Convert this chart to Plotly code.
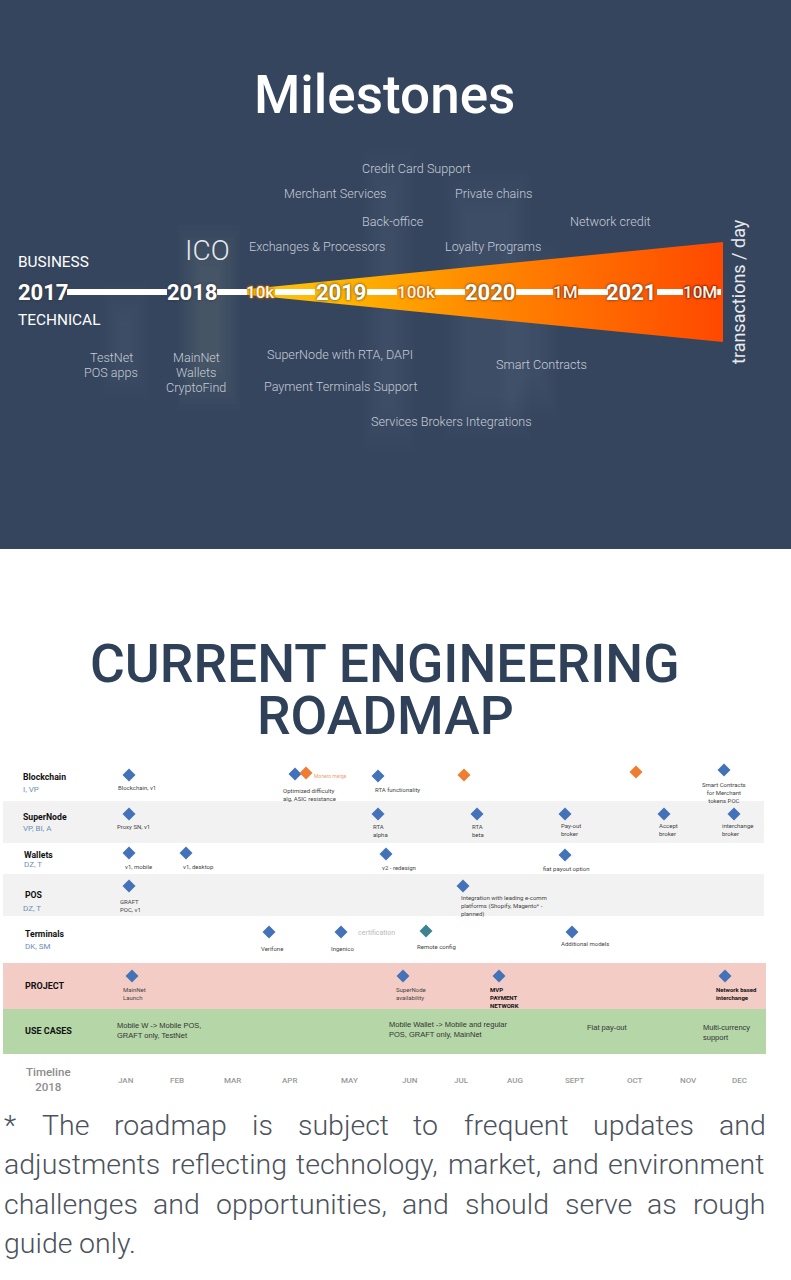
import plotly.graph_objects as go

NAVY = "#35455e"
TITLE = "#2f4159"
FOOT = "#4c525c"
BLUE = "#4472b8"
ORANGE = "#ed7d31"
TEAL = "#3f8290"

# wedge outline and the pieces of white line between the labels
wedge_x = [218, 723, 723, 218]
wedge_y = [292, 242, 342, 292]
line_segments = [(67, 167), (217, 247), (275, 315), (367, 397), (435, 465),
                 (516, 553), (578, 608), (657, 683), (715, 721)]

years = ["2017", "2018", "2019", "2020", "2021"]
year_x = [43, 192, 341, 490, 631]
volumes = ["10k", "100k", "1M", "10M"]
volume_x = [260, 416, 565, 700]
volume_glow = ["#b86a00", "#b85a00", "#8a2a00", "#7a1a00"]

up_labels = ["Credit Card Support", "Merchant Services", "Private chains", "Back-office",
             "Network credit", "Exchanges & Processors", "Loyalty Programs"]
up_x = [416, 335, 493, 393, 610, 317, 493]
up_y = [168, 193, 193, 221, 221, 246, 246]

down_labels = ["TestNet", "POS apps", "MainNet", "Wallets", "CryptoFind", "SuperNode with RTA, DAPI",
               "Payment Terminals Support", "Smart Contracts", "Services Brokers Integrations"]
down_x = [111, 111, 196, 196, 196, 340, 340, 541, 451]
down_y = [357, 372, 357, 372, 387, 354, 386, 364, 421]

# soft vertical streaks behind the milestones text
streak_x0 = [100, 178, 250, 362, 445, 500, 565, 660]
streak_x1 = [150, 240, 300, 415, 530, 560, 640, 700]
streak_y0 = [280, 225, 170, 150, 170, 240, 210, 210]
streak_y1 = [400, 410, 430, 450, 440, 420, 400, 360]
streak_alpha = [0.006, 0.010, 0.005, 0.008, 0.008, 0.006, 0.004, 0.004]

# roadmap rows
band_x1 = [764, 764, 766, 766]
band_y0 = [801, 874, 963, 1009]
band_y1 = [843, 916, 1009, 1054]
band_colors = ["#f2f2f2", "#f2f2f2", "#f4ccc6", "#b5d6a7"]

row_names = ["Blockchain", "SuperNode", "Wallets", "POS", "Terminals"]
row_x = [23, 23, 24, 25, 25]
row_y = [777, 817, 855, 895, 934]
team_names = ["I, VP", "VP, BI, A", "DZ, T", "DZ, T", "DK, SM"]
team_x = [23, 23, 24, 23, 25]
team_y = [789, 828, 864, 908, 946]

blue_x = [129, 295, 378, 724, 129, 378, 477, 565, 664, 734, 129, 186, 386, 565, 129, 463,
          269, 341, 572, 132, 403, 499, 725]
blue_y = [775, 774, 776, 770, 814, 814, 814, 814, 814, 814, 853, 853, 854, 855, 886, 886,
          932, 932, 932, 976, 976, 976, 976]
orange_x = [306, 464, 636]
orange_y = [773, 775, 772]
teal_x = [426]
teal_y = [931]

notes = ["Blockchain, v1", "Optimized difficulty<br>alg, ASIC resistance", "RTA functionality",
         "Proxy SN, v1", "RTA<br>alpha", "RTA<br>beta", "Pay-out<br>broker", "Accept<br>broker",
         "interchange<br>broker", "v1, mobile", "v1, desktop", "v2 - redesign", "fiat payout option",
         "GRAFT<br>POC, v1", "Integration with leading e-comm<br>platforms (Shopify, Magento* -<br>planned)",
         "Verifone", "Ingenico", "Remote config", "Additional models",
         "MainNet<br>Launch", "SuperNode<br>availability"]
note_x = [118, 283, 375, 117, 373, 472, 561, 659, 722, 125, 183, 382, 543, 120, 461,
          261, 331, 417, 561, 123, 396]
note_y = [787, 794, 789, 826, 830, 830, 829, 829, 829, 866, 866, 867, 868, 905, 906,
          948, 948, 946, 943, 993, 993]

project_bold = ["MVP<br>PAYMENT<br>NETWORK", "Network based<br>interchange"]
project_bold_x = [490, 716]
project_bold_y = [997, 993]

use_cases = ["Mobile W -> Mobile POS,<br>GRAFT only, TestNet", "Mobile Wallet -> Mobile and regular<br>POS, GRAFT only, MainNet",
             "Fiat pay-out", "Multi-currency<br>support"]
use_x = [117, 389, 587, 703]
use_y = [1030, 1029, 1027, 1032]

months = ["JAN", "FEB", "MAR", "APR", "MAY", "JUN", "JUL", "AUG", "SEPT", "OCT", "NOV", "DEC"]
month_x = [126, 177, 232, 289, 349, 410, 461, 515, 574, 635, 688, 739]

# footnote, one word at a time because the original is justified
foot_words = [
    ["*", "The", "roadmap", "is", "subject", "to", "frequent", "updates", "and"],
    ["adjustments", "reflecting", "technology,", "market,", "and", "environment"],
    ["challenges", "and", "opportunities,", "and", "should", "serve", "as", "rough"],
    ["guide", "only."],
]
foot_x = [
    [4, 42, 114, 252, 298, 413, 464, 593, 719],
    [4, 171, 296, 448, 552, 608],
    [4, 153, 216, 402, 465, 565, 647, 693],
    [4, 79],
]
foot_y = [1125, 1164, 1204, 1243]


def label(fig, text, x, y, size, color, anchor="center", weight=400, **kw):
    fig.add_annotation(x=x, y=y, text=text, showarrow=False, xanchor=anchor, yanchor="middle",
                       borderpad=0, borderwidth=0,
                       font=dict(family="Roboto", size=size, color=color, weight=weight), **kw)


fig = go.Figure()

shapes = [dict(type="rect", x0=0, x1=791, y0=0, y1=549, fillcolor=NAVY, line_width=0, layer="below")]
for x0, x1, y0, y1, alpha in zip(streak_x0, streak_x1, streak_y0, streak_y1, streak_alpha):
    for inset in range(0, 24, 3):
        shapes.append(dict(type="rect", x0=x0 + inset, x1=x1 - inset, y0=y0 + inset * 2, y1=y1 - inset * 2,
                           fillcolor=f"rgba(255,255,255,{alpha})", line_width=0, layer="below"))
for x1, y0, y1, color in zip(band_x1, band_y0, band_y1, band_colors):
    shapes.append(dict(type="rect", x0=3, x1=x1, y0=y0, y1=y1, fillcolor=color, line_width=0, layer="below"))

fig.add_trace(go.Scatter(
    x=wedge_x, y=wedge_y, mode="lines", fill="toself", line=dict(width=0),
    fillgradient=dict(type="horizontal", colorscale=[[0, "#ffc810"], [0.25, "#ffb400"], [0.5, "#ff8c00"], [1, "#ff4800"]]),
))
for x0, x1 in line_segments:
    fig.add_trace(go.Scatter(x=[x0, x1], y=[292, 292], mode="lines", line=dict(color="white", width=6)))

fig.add_trace(go.Scatter(x=blue_x, y=blue_y, mode="markers", marker=dict(symbol="diamond", size=10, color=BLUE)))
fig.add_trace(go.Scatter(x=orange_x, y=orange_y, mode="markers", marker=dict(symbol="diamond", size=10, color=ORANGE)))
fig.add_trace(go.Scatter(x=teal_x, y=teal_y, mode="markers", marker=dict(symbol="diamond", size=10, color=TEAL)))

# Milestones panel
label(fig, "Milestones", 384.5, 95, 53, "white", weight=500)
label(fig, "ICO", 207, 250, 28, "#e6e9ee", weight=300)
label(fig, "BUSINESS", 18, 262, 15.4, "white", "left")
label(fig, "TECHNICAL", 18, 320, 15.4, "white", "left")
for text, x in zip(years, year_x):
    fig.add_annotation(x=x, y=292, text=text, showarrow=False,
                       font=dict(family="Roboto", size=22, color="white", weight=700, shadow="0 0 3px #333333"))
for text, x, glow in zip(volumes, volume_x, volume_glow):
    fig.add_annotation(x=x, y=292, text=text, showarrow=False,
                       font=dict(family="Roboto", size=17, color="#fff6e8", weight=500,
                                 shadow=f"0 0 2px {glow}, 0 0 2px {glow}, 0 0 3px {glow}"))
for text, x, y in zip(up_labels, up_x, up_y):
    label(fig, text, x, y, 12.6, "#c5cbd5", weight=300)
for text, x, y in zip(down_labels, down_x, down_y):
    label(fig, text, x, y, 12.6, "#c5cbd5", weight=300)
label(fig, "transactions / day", 738, 292, 18, "#e6e9ee", textangle=-90)

# Roadmap panel
label(fig, "CURRENT ENGINEERING", 385, 663, 53.4, TITLE, weight=500)
label(fig, "ROADMAP", 385, 715, 53.4, TITLE, weight=500)
for name, x, y in zip(row_names, row_x, row_y):
    label(fig, name, x, y, 8.7, "#111111", "left", 700)
for name, x, y in zip(team_names, team_x, team_y):
    label(fig, name, x, y, 8, "#6f8fb5", "left")
for text, x, y in zip(notes, note_x, note_y):
    label(fig, text, x, y, 6, "#444444", "left", align="left")
label(fig, "Smart Contracts<br>for Merchant<br>tokens POC", 724, 792, 6, "#444444")
label(fig, "Monero merge", 330, 776, 5, "#f0a070")
label(fig, "certification", 376, 933, 7, "#bbbbbb")
for text, x, y in zip(project_bold, project_bold_x, project_bold_y):
    label(fig, text, x, y, 6, "#111111", "left", 700, align="left")
label(fig, "PROJECT", 25, 986, 9, "#111111", "left", 700)
label(fig, "USE CASES", 25, 1031, 9, "#111111", "left", 700)
for text, x, y in zip(use_cases, use_x, use_y):
    fig.add_annotation(x=x, y=y, text=text, showarrow=False, xanchor="left", align="left",
                       borderpad=0, borderwidth=0,
                       font=dict(family="Liberation Sans", size=7.5, color="#333333"))
label(fig, "Timeline<br>2018", 48, 1079, 11.5, "#8c8c8c", weight=500)
for text, x in zip(months, month_x):
    label(fig, text, x, 1080, 8, "#999999", weight=500)

# Footnote
for words, xs, y in zip(foot_words, foot_x, foot_y):
    for word, x in zip(words, xs):
        label(fig, word, x, y, 28.5, FOOT, "left", 300)

fig.update_layout(
    width=791, height=1280, margin=dict(l=0, r=0, t=0, b=0), showlegend=False,
    paper_bgcolor="white", plot_bgcolor="white", shapes=shapes,
    xaxis=dict(range=[0, 791], visible=False, fixedrange=True),
    yaxis=dict(range=[1280, 0], visible=False, fixedrange=True),
)

fig.write_html("out.html", config=dict(displayModeBar=False), post_script="document.body.style.margin='0';")
